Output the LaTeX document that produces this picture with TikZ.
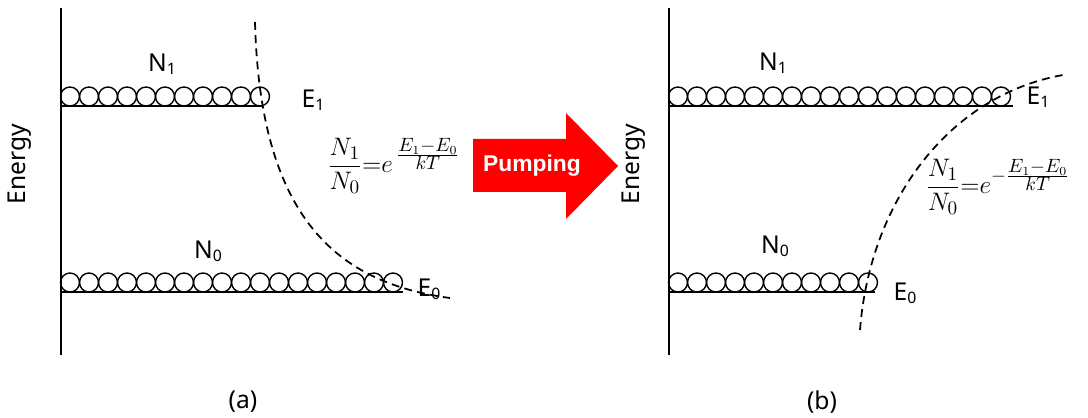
\documentclass[tikz,border=0pt]{standalone}
\usepackage{fontspec}
\setmainfont{Noto Sans}
\newfontfamily\pumpfont{Liberation Sans}
\usetikzlibrary{positioning}
\definecolor{PumpRed}{RGB}{255,0,0}
\newcommand{\lvsub}[1]{\raisebox{-0.2ex}{\fontsize{9}{9}\selectfont #1}}
\tikzset{
  axisline/.style={line width=1.1pt,draw=black},
  levelline/.style={line width=1.2pt,draw=black},
  atom/.style={line width=0.8pt,draw=black},
  boltzcurve/.style={line width=1pt,draw=black,dash pattern=on 4.5pt off 3pt},
  lbl/.style={inner sep=0pt,font=\fontsize{14}{16}\selectfont},
  formula/.style={inner sep=0pt,font=\fontsize{15}{18}\selectfont}
}

\begin{document}
\begin{tikzpicture}[x=0.02cm,y=-0.02cm]
  \useasboundingbox (0,0) rectangle (1088,418);

  % (a) thermal equilibrium
  \coordinate (aTop) at (61,8);
  \coordinate (aBot) at (61,355);
  \coordinate (aUpL) at (61,106);
  \coordinate (aUpR) at (262,106);
  \coordinate (aLoL) at (61,292);
  \coordinate (aLoR) at (403,292);
  \draw[axisline] (aTop) -- (aBot);
  \draw[levelline] (aUpL) -- (aUpR);
  \draw[levelline] (aLoL) -- (aLoR);
  \foreach \i in {0,...,10}
    \draw[atom] (70+19*\i,96.5) circle (0.19cm);
  \foreach \i in {0,...,17}
    \draw[atom] (70+19*\i,282.5) circle (0.19cm);
  \coordinate (aCurveS) at (255,22);
  \coordinate (aCurveE) at (450,298);
  \draw[boltzcurve] (aCurveS) .. controls (260,210) and (330,282) .. (aCurveE);

  \node[lbl] (aN1) at (162,64) {N\lvsub{1}};
  \node[lbl] (aE1) at (313,100) {E\lvsub{1}};
  \node[lbl] (aN0) at (208,251) {N\lvsub{0}};
  \node[lbl] (aE0) at (429,289) {E\lvsub{0}};
  \node[lbl,rotate=90] (aEnergy) at (20,164) {Energy};
  \node[formula] (aRatio) at (394,166) {$\displaystyle\frac{N_1}{N_0}{=}e^{\,\frac{\scriptstyle E_1-E_0}{\scriptstyle kT}}$};
  \node[lbl] (aCap) at (243,402) {(a)};

  % pumping arrow
  \fill[PumpRed] (473,139) -- (566,139) -- (566,113) -- (618,166)
    -- (566,219) -- (566,192) -- (473,192) -- cycle;
  \node[inner sep=0pt,text=white,font=\pumpfont\fontsize{13}{15}\selectfont\bfseries] (pump) at (532,166) {Pumping};

  % (b) population inversion
  \coordinate (bTop) at (669,8);
  \coordinate (bBot) at (669,355);
  \coordinate (bUpL) at (669,106);
  \coordinate (bUpR) at (1013,106);
  \coordinate (bLoL) at (669,292);
  \coordinate (bLoR) at (875,292);
  \draw[axisline] (bTop) -- (bBot);
  \draw[levelline] (bUpL) -- (bUpR);
  \draw[levelline] (bLoL) -- (bLoR);
  \foreach \i in {0,...,17}
    \draw[atom] (678+19*\i,96.5) circle (0.19cm);
  \foreach \i in {0,...,10}
    \draw[atom] (678+19*\i,282.5) circle (0.19cm);
  \coordinate (bCurveS) at (860,330);
  \coordinate (bCurveE) at (1063,75);
  \draw[boltzcurve] (bCurveS) .. controls (870,200) and (950,95) .. (bCurveE);

  \node[lbl] (bN1) at (773,63) {N\lvsub{1}};
  \node[lbl] (bE1) at (1038,97) {E\lvsub{1}};
  \node[lbl] (bN0) at (775,246) {N\lvsub{0}};
  \node[lbl] (bE0) at (905,293) {E\lvsub{0}};
  \node[lbl,rotate=90] (bEnergy) at (634,164) {Energy};
  \node[formula] (bRatio) at (998,187) {$\displaystyle\frac{N_1}{N_0}{=}e^{-\frac{\scriptstyle E_1-E_0}{\scriptstyle kT}}$};
  \node[lbl] (bCap) at (822,402) {(b)};
\end{tikzpicture}
\end{document}
